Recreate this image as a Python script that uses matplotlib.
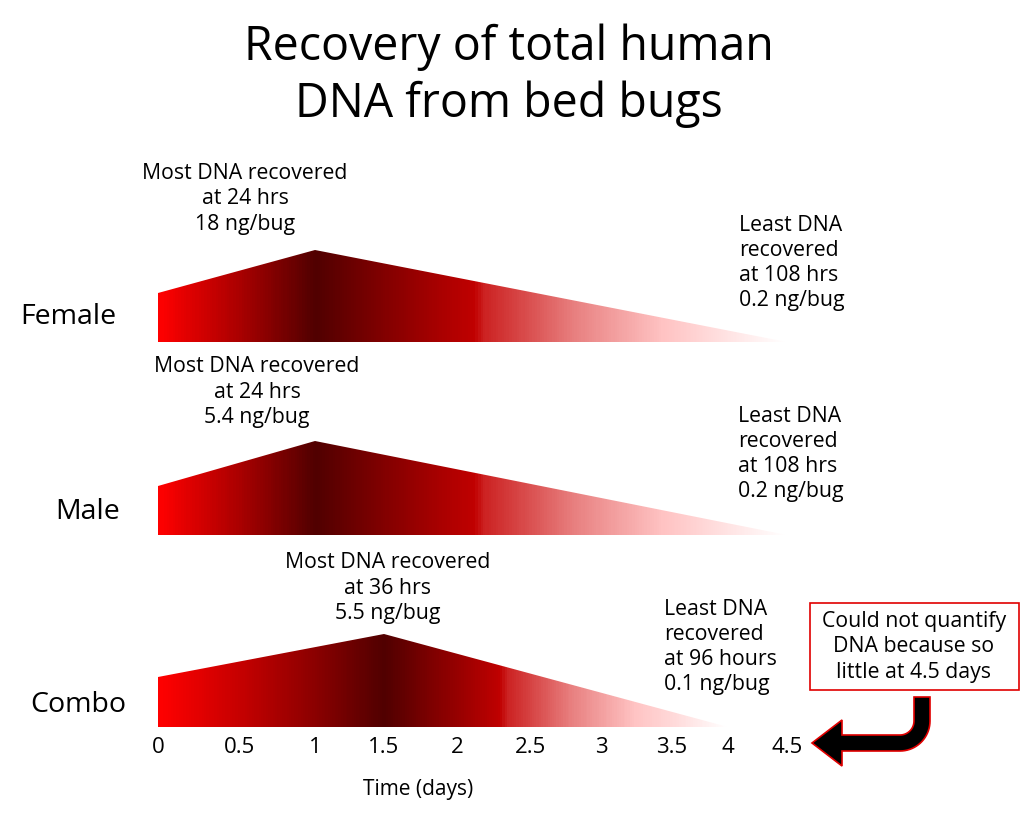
import numpy as np
import matplotlib
matplotlib.use("Agg")
import matplotlib.pyplot as plt
from matplotlib.patches import Polygon, Rectangle
from matplotlib.colors import LinearSegmentedColormap, Normalize

# ---------------- data ----------------
groups = ["Female", "Male", "Combo"]
peak_hours = [24, 24, 36]          # time of most DNA recovered
peak_ng = ["18", "5.4", "5.5"]     # ng/bug at peak
least_hours = [108, 108, 96]       # time of least DNA recovered
least_ng = ["0.2", "0.2", "0.1"]   # ng/bug at least
least_unit = ["hrs", "hrs", "hours"]
start_rel_height = [0.53, 0.52, 0.54]   # schematic height at day 0 (peak = 1)
tick_days = [0, 0.5, 1, 1.5, 2, 2.5, 3, 3.5, 4, 4.5]
tick_labels = ["0", "0.5", "1", "1.5", "2", "2.5", "3", "3.5", "4", "4.5"]
title = "Recovery of total human\nDNA from bed bugs"
note = "Could not quantify\nDNA because so\nlittle at 4.5 days"

# ---------------- layout / style ----------------
W, H = 1024, 814
FONT = "Open Sans"
plt.rcParams["font.family"] = [FONT, "DejaVu Sans"]

# pixel position of each tick along the time axis (axis is hand-drawn, not linear)
axis_px = [158, 240, 315, 384, 457, 530, 601, 672, 728, 787]
kd = [-5.0] + tick_days + [10.0]
kp = [axis_px[0] - 5 * 150] + axis_px + [axis_px[-1] + 5.5 * 118]

def fwd(d):
    return np.interp(d, kd, kp)

def inv(p):
    return np.interp(p, kp, kd)

row_base_px = [342, 535, 727]
row_peak_px = [250, 441, 634]

fig = plt.figure(figsize=(W / 100, H / 100), dpi=100)

# overlay axes in pixel coordinates for text / decorations
ov = fig.add_axes([0, 0, 1, 1], zorder=5)
ov.set_xlim(0, W)
ov.set_ylim(H, 0)
ov.axis("off")
ov.patch.set_alpha(0)

right_stops = [0.0, 0.32, 0.34, 0.52, 0.70, 1.0]
right_cols = ["#500000", "#C00000", "#CC2222", "#E88080", "#FFC4C4", "#FFFFFF"]

ax_left = axis_px[0] / W
ax_w = (axis_px[-1] - axis_px[0]) / W

axes = []
for i, g in enumerate(groups):
    b = row_base_px[i]
    t = row_peak_px[i]
    ax = fig.add_axes([ax_left, 1 - b / H, ax_w, (b - t) / H])
    ax.set_xscale("function", functions=(fwd, inv))
    ax.set_xlim(tick_days[0], tick_days[-1])
    ax.set_ylim(0, 1)
    for s in ax.spines.values():
        s.set_visible(False)
    ax.patch.set_alpha(0)
    ax.set_yticks([])

    t0 = 0.0
    tp = peak_hours[i] / 24.0
    te = least_hours[i] / 24.0
    poly = Polygon([(t0, 0), (t0, start_rel_height[i]), (tp, 1.0), (te, 0)],
                   closed=True, fc="none", ec="none", transform=ax.transData)
    ax.add_patch(poly)

    span = te - t0
    stops = [(0.0, "#FF0000"), ((tp - t0) / span, "#500000")]
    for f, c in zip(right_stops[1:], right_cols[1:]):
        stops.append(((tp + f * (te - tp) - t0) / span, c))
    cmap = LinearSegmentedColormap.from_list("g%d" % i, stops)
    xe = np.linspace(t0, te, 600)
    xc = 0.5 * (xe[:-1] + xe[1:])
    mesh = ax.pcolormesh(xe, [0, 1.02], xc[None, :], cmap=cmap,
                         norm=Normalize(t0, te), shading="flat",
                         antialiased=False, linewidth=0)
    mesh.set_clip_path(poly)

    if i == len(groups) - 1:
        ax.set_xticks(tick_days)
        ax.set_xticklabels(tick_labels, fontsize=16)
        ax.tick_params(axis="x", length=0, pad=7)
    else:
        ax.set_xticks([])
    axes.append(ax)

# title
ov.text(509, 76, title, ha="center", va="center", fontsize=33.5, linespacing=1.26)

# row labels
row_label_x = [20, 55, 30]
row_label_y = [317, 512, 705]
for i, g in enumerate(groups):
    ov.text(row_label_x[i], row_label_y[i], g, ha="left", va="center", fontsize=20.5)

# annotations
top_xy = [(245, 199), (257, 392), (388, 588)]
right_xy = [(739, 263), (738, 454), (664, 647)]
for i in range(len(groups)):
    ov.text(*top_xy[i], "Most DNA recovered\nat %d hrs\n%s ng/bug" % (peak_hours[i], peak_ng[i]),
            ha="center", va="center", fontsize=15.3, linespacing=1.27)
    ov.text(*right_xy[i], "Least DNA\nrecovered\nat %d %s\n%s ng/bug" % (least_hours[i], least_unit[i], least_ng[i]),
            ha="left", va="center", fontsize=15.3, linespacing=1.27)

# x label
ov.text(418, 789, "Time (days)", ha="center", va="center", fontsize=15)

# note box
ov.add_patch(Rectangle((810, 603), 209, 87, fill=False, ec="#E00000", lw=1.2))
ov.text(914, 647, note, ha="center", va="center", fontsize=15.3, linespacing=1.27)

# bent arrow (outline polygon in pixel coordinates)
xc_, yc_ = 922, 743      # corner of the centerline
R, w = 22, 8
cx, cy = xc_ - R, yc_ - R
th = np.linspace(0, np.pi / 2, 20)
outer = [(cx + (R + w) * np.cos(a), cy + (R + w) * np.sin(a)) for a in th]
inner = [(cx + (R - w) * np.cos(a), cy + (R - w) * np.sin(a)) for a in th[::-1]]
pts = [(xc_ + w, 697)] + outer + [(842, yc_ + w), (842, yc_ + 23), (812, yc_),
                                 (842, yc_ - 23), (842, yc_ - w)] + inner + [(xc_ - w, 697)]
ov.add_patch(Polygon(pts, closed=True, fc="black", ec="#E00000", lw=1.2, joinstyle="miter"))

fig.savefig("out.png", dpi=100)
